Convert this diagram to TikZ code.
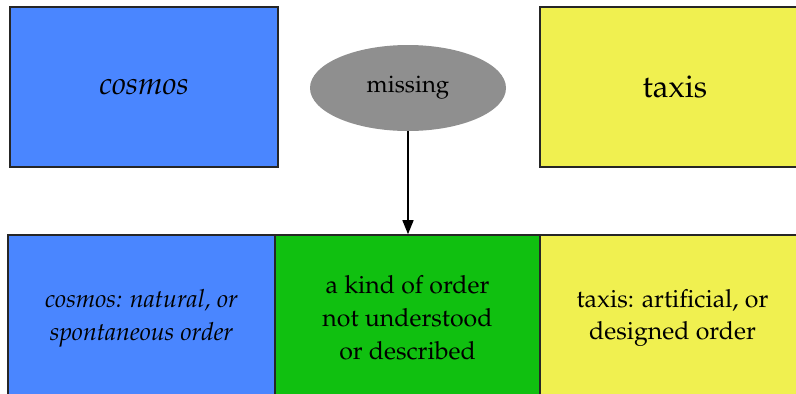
\documentclass[tikz,border=0pt]{standalone}
\usepackage[T1]{fontenc}
\usepackage{mathpazo}
\usepackage{xcolor}
\usepackage{tikz}
\usetikzlibrary{positioning, arrows.meta, shapes.geometric}

\definecolor{cosmosblue}{RGB}{74,134,255}
\definecolor{orderyellow}{RGB}{240,240,80}
\definecolor{gapgreen}{RGB}{16,192,16}
\definecolor{missgray}{RGB}{143,143,143}

\begin{document}
\begin{tikzpicture}[x=1bp, y=-1bp,
    box/.style={draw=black!85, line width=1.6bp, rectangle, inner sep=0pt, align=center},
    big/.style={font=\fontsize{31.5}{36}\selectfont},
    small/.style={font=\fontsize{25}{33}\selectfont}]
    \path[use as bounding box, clip] (0,0) rectangle (796,393);
    % top row
    \node[box, big, fill=cosmosblue, minimum width=268bp, minimum height=160bp] (cosmos) at (144,87) {\itshape cosmos};
    \node[box, big, fill=orderyellow, minimum width=270bp, minimum height=160bp] (taxis) at (675,87) {taxis};
    \node[ellipse, fill=missgray, small, font=\fontsize{24}{28}\selectfont, minimum width=196bp, minimum height=86bp] (missing) at (408,88) {missing};
    % bottom row
    \node[box, small, fill=cosmosblue, minimum width=267bp, minimum height=166bp] (natural) at (141.5,318) {\itshape cosmos: natural, or\\ \itshape spontaneous order};
    \node[box, small, fill=gapgreen, minimum width=265bp, minimum height=166bp] (unknown) at (407.5,318) {a kind of order\\ not understood\\ or described};
    \node[box, small, fill=orderyellow, minimum width=265bp, minimum height=166bp] (designed) at (672.5,318) {taxis: artificial, or\\ designed order};
    \draw[line width=1.4bp, -{Triangle[length=14bp, width=11bp]}] (missing.south) -- (missing.south |- unknown.north);
\end{tikzpicture}
\end{document}
